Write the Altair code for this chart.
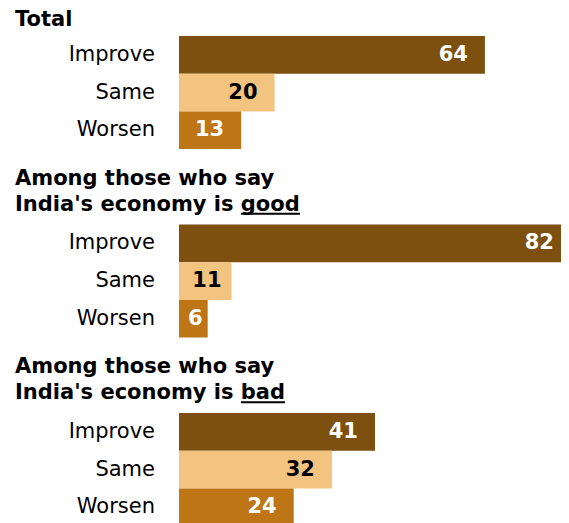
import altair as alt
import pandas as pd

# ---- data ----
categories = ["Improve", "Same", "Worsen"]
group_keys = ["total", "good", "bad"]
total_vals = [64, 20, 13]
good_vals = [82, 11, 6]
bad_vals = [41, 32, 24]
header_total = ["Total"]
header_good = ["Among those who say", "India's economy is good"]
header_bad = ["Among those who say", "India's economy is bad"]

colors = ["#7D5010", "#F3C480", "#BD7515"]
label_colors = ["white", "black", "white"]

FONT = "DejaVu Sans"
STEP = 37.7
Y0 = 1 - 28 / STEP
H = 515
W = 553
K = 4.78
XMIN = -(179 - 8) / K
XMAX = XMIN + W / K

group_start = {"total": 1, "good": 6, "bad": 11}
vals = {"total": total_vals, "good": good_vals, "bad": bad_vals}

bar_rows = []
for g in group_keys:
    for i, (c, v) in enumerate(zip(categories, vals[g])):
        r = group_start[g] + i
        bar_rows.append({"group": g, "category": c, "value": v,
                         "top": r, "bottom": r + 1, "mid": r + 0.5,
                         "tcolor": label_colors[i]})
bars_df = pd.DataFrame(bar_rows)

head_rows = []
for g, lines in zip(group_keys, [header_total, header_good, header_bad]):
    s = group_start[g]
    if len(lines) == 1:
        head_rows.append({"text": lines[0], "y": s - 0.265})
    else:
        head_rows.append({"text": lines[0], "y": s - 1.05})
        head_rows.append({"text": lines[1], "y": s - 0.36})
head_df = pd.DataFrame(head_rows)

ul_rows = [
    {"y": group_start["good"] - 0.285, "x1": 233, "x2": 292},
    {"y": group_start["bad"] - 0.285, "x1": 233, "x2": 277},
]
ul_df = pd.DataFrame(ul_rows)

yscale = alt.Scale(domain=[Y0, Y0 + H / STEP], reverse=True, nice=False, zero=False)
xscale = alt.Scale(domain=[XMIN, XMAX], nice=False, zero=False)

base = alt.Chart(bars_df)

bars = base.mark_bar(clip=True).encode(
    x=alt.X("value:Q", scale=xscale, axis=None),
    x2=alt.datum(0),
    y=alt.Y("top:Q", scale=yscale, axis=None),
    y2="bottom:Q",
    color=alt.Color("category:N", scale=alt.Scale(domain=categories, range=colors), legend=None),
)

def value_labels(dx, cond):
    return base.transform_filter(cond).mark_text(
        align="right", baseline="middle", dx=dx, font=FONT,
        fontSize=21, fontWeight="bold", clip=True).encode(
        x=alt.X("value:Q", scale=xscale, axis=None),
        y=alt.Y("mid:Q", scale=yscale, axis=None),
        text="value:Q",
        color=alt.Color("tcolor:N", scale=None),
    )

values_wide = value_labels(-17, "datum.value >= 12")
values_mid = value_labels(-10, "datum.value >= 10 && datum.value < 12")
values_narrow = value_labels(-5, "datum.value < 10")

cats = base.mark_text(align="right", baseline="middle", font=FONT, fontSize=21,
                      color="black").encode(
    x=alt.value(147),
    y=alt.Y("mid:Q", scale=yscale, axis=None),
    text="category:N",
)

heads = alt.Chart(head_df).mark_text(align="left", baseline="alphabetic", font=FONT,
                                     fontSize=21, fontWeight="bold", color="black").encode(
    x=alt.value(7),
    y=alt.Y("y:Q", scale=yscale, axis=None),
    text="text:N",
)

underline = alt.Chart(ul_df).mark_rule(color="black", strokeWidth=2).encode(
    x=alt.X("x1:Q", scale=alt.Scale(domain=[0, W], nice=False), axis=None),
    x2="x2:Q",
    y=alt.Y("y:Q", scale=yscale, axis=None),
)

chart = alt.layer(bars, values_wide, values_mid, values_narrow, cats, heads, underline).resolve_scale(
    x="independent"
).properties(
    width=W, height=H, padding=0
).configure_view(strokeWidth=0)

chart.save("out.html", embed_options={"renderer": "svg", "actions": False})
